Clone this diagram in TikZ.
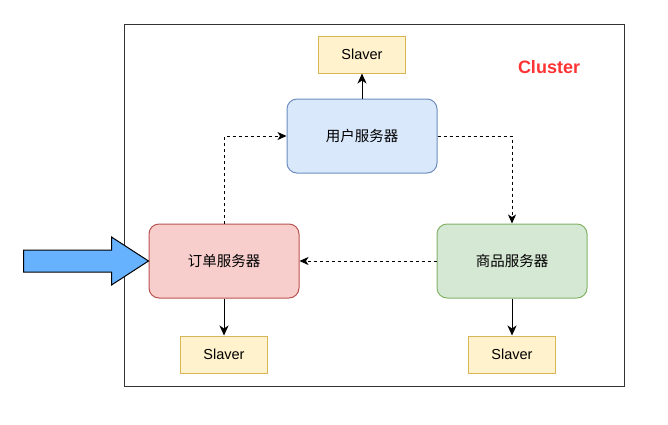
\documentclass[tikz,border=0pt]{standalone}
\usepackage{fontspec}
\setmainfont{Liberation Sans}
\newfontfamily\cjk{Noto Sans CJK SC}
\usetikzlibrary{arrows.meta,positioning}
\definecolor{bluefill}{HTML}{DAE8FC}\definecolor{bluedraw}{HTML}{6C8EBF}
\definecolor{redfill}{HTML}{F8CECC}\definecolor{reddraw}{HTML}{B85450}
\definecolor{greenfill}{HTML}{D5E8D4}\definecolor{greendraw}{HTML}{82B366}
\definecolor{yelfill}{HTML}{FFF2CC}\definecolor{yeldraw}{HTML}{D6B656}
\definecolor{bigarrow}{HTML}{66B2FF}
\definecolor{clusterred}{HTML}{FF3333}
\tikzset{
  server/.style={rounded corners=10pt, minimum width=150pt, minimum height=74pt, line width=1pt, font=\cjk\fontsize{14.5}{17}\selectfont, inner sep=0pt},
  slavebox/.style={draw=yeldraw, fill=yelfill, minimum width=87pt, minimum height=37pt, line width=1pt, font=\fontsize{14.5}{17}\selectfont, inner sep=0pt},
  solidarr/.style={-{Stealth[length=10pt,width=9pt,inset=3pt]}, line width=1pt},
  dasharr/.style={-{Stealth[length=9pt,width=8pt,inset=2.5pt]}, line width=1pt, dash pattern=on 3pt off 3pt},
}
\begin{document}
\begin{tikzpicture}[x=1pt,y=-1pt]
\useasboundingbox (0,0) rectangle (668,424);
\fill[white] (0,0) rectangle (668,424);
\node[draw=black!80, line width=1pt, minimum width=500pt, minimum height=362pt, inner sep=0pt] (cluster) at (374,205) {};
\node[font=\bfseries\fontsize{18}{21}\selectfont, text=clusterred] (clabel) at (549,67) {Cluster};
\node[server, draw=bluedraw, fill=bluefill] (user) at (362,136) {用户服务器};
\node[server, draw=reddraw, fill=redfill] (order) at (224,261) {订单服务器};
\node[server, draw=greendraw, fill=greenfill] (goods) at (512,261) {商品服务器};
\node[slavebox] (s1) at (362,54.5) {Slaver};
\node[slavebox] (s2) at (224,354.5) {Slaver};
\node[slavebox] (s3) at (512,354.5) {Slaver};
\draw[solidarr] (user.north) -- (s1.south);
\draw[solidarr] (order.south) -- (s2.north);
\draw[solidarr] (goods.south) -- (s3.north);
\draw[dasharr] (order.north) |- (user.west);
\draw[dasharr] (user.east) -| (goods.north);
\draw[dasharr] (goods.west) -- (order.east);
\coordinate (tip) at (order.west);
\draw[fill=bigarrow, line width=1pt, line join=miter] (tip) -- ++(-37,-24) -- ++(0,13) -- ++(-88,0) -- ++(0,22) -- ++(88,0) -- ++(0,13) -- cycle;
\end{tikzpicture}
\end{document}
